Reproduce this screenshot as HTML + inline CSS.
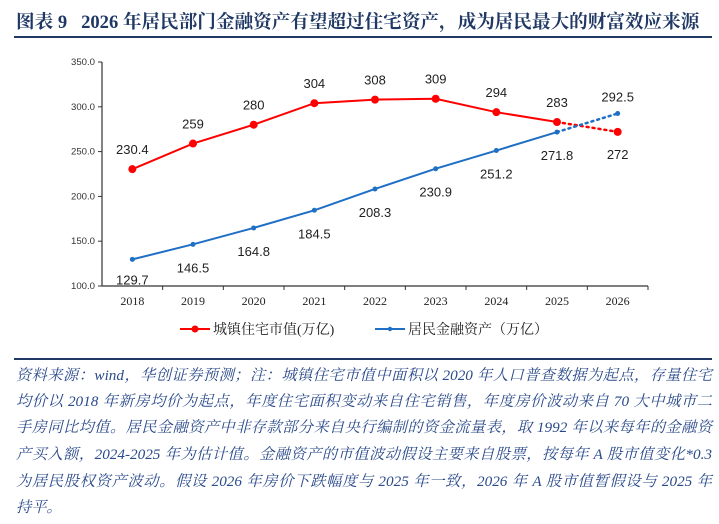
<!DOCTYPE html>
<html><head><meta charset="utf-8">
<style>
body{margin:0;background:#fff;width:719px;height:524px;overflow:hidden;position:relative;font-family:"Liberation Serif","Noto Serif CJK SC",serif;}
.title{position:absolute;left:16px;top:8px;font-size:18.6px;font-weight:bold;color:#1f3864;white-space:nowrap;}
.rule{position:absolute;left:14px;width:698px;height:2px;background:#1f3864;}
.note{position:absolute;left:16px;width:696px;font-size:15.2px;font-style:italic;color:#2a4a8a;white-space:nowrap;text-align:justify;text-align-last:justify;font-family:"Liberation Serif","Noto Serif CJK SC",serif;}
</style></head><body>
<div class="title">图表 9&nbsp;&nbsp; 2026 年居民部门金融资产有望超过住宅资产，成为居民最大的财富效应来源</div>
<div class="rule" style="top:36px"></div>
<svg id="chart" width="719" height="350" style="position:absolute;left:0;top:0"></svg>
<div class="rule" style="top:358px;height:2px"></div>
<div>
<div class="note" style="top:364px">资料来源：wind，华创证券预测；注：城镇住宅市值中面积以 2020 年人口普查数据为起点，存量住宅</div>
<div class="note" style="top:390px">均价以 2018 年新房均价为起点，年度住宅面积变动来自住宅销售，年度房价波动来自 70 大中城市二</div>
<div class="note" style="top:416px">手房同比均值。居民金融资产中非存款部分来自央行编制的资金流量表，取 1992 年以来每年的金融资</div>
<div class="note" style="top:443px">产买入额，2024-2025 年为估计值。金融资产的市值波动假设主要来自股票，按每年 A 股市值变化*0.3</div>
<div class="note" style="top:470px">为居民股权资产波动。假设 2026 年房价下跌幅度与 2025 年一致，2026 年 A 股市值暂假设与 2025 年</div>
<div class="note" style="top:496px;text-align-last:left">持平。</div>
</div>
<script>
const categories=["2018","2019","2020","2021","2022","2023","2024","2025","2026"];
const housing=[230.4,259,280,304,308,309,294,283,272];
const financial=[129.7,146.5,164.8,184.5,208.3,230.9,251.2,271.8,292.5];
const housingLabels=["230.4","259","280","304","308","309","294","283","272"];
const financialLabels=["129.7","146.5","164.8","184.5","208.3","230.9","251.2","271.8","292.5"];
const yTicks=[100,150,200,250,300,350];
const svg=document.getElementById('chart');
const NS='http://www.w3.org/2000/svg';
const x0=102,x1=648,yTop=62,yBot=286,ymin=100,ymax=350;
const bw=(x1-x0)/categories.length;
const X=i=>x0+bw*(i+0.5);
const Y=v=>yBot-(v-ymin)/(ymax-ymin)*(yBot-yTop);
function el(t,a,p){const e=document.createElementNS(NS,t);for(const k in a)e.setAttribute(k,a[k]);(p||svg).appendChild(e);return e;}
const F='"Liberation Sans","DejaVu Sans",sans-serif';
let ax=el('line',{x1:x0,y1:yTop,x2:x0,y2:yBot,stroke:'#333','stroke-width':1.2});

let bx=el('line',{x1:x0,y1:yBot,x2:x1,y2:yBot,stroke:'#333','stroke-width':1.2});

yTicks.forEach(v=>{
  el('line',{x1:x0-4,y1:Y(v),x2:x0,y2:Y(v),stroke:'#333'});
  const t=el('text',{x:x0-7,y:Y(v)+3,'text-anchor':'end','font-size':9,'font-family':F,fill:'#333','textLength':24,'lengthAdjust':'spacingAndGlyphs'});
  t.textContent=v.toFixed(1);
  
});
categories.forEach((c,i)=>{
  el('line',{x1:x0+bw*(i+1),y1:yBot,x2:x0+bw*(i+1),y2:yBot+4,stroke:'#333'});
  const t=el('text',{x:X(i),y:yBot+19,'text-anchor':'middle','font-size':12,'font-family':'"Liberation Serif",serif',fill:'#222'});
  t.textContent=c;
  
});
function series(vals,color,name,r,labels,offs){
  const n=vals.length;
  const solid=vals.slice(0,n-1).map((v,i)=>X(i)+','+Y(v)).join(' ');
  const p=el('polyline',{points:solid,fill:'none',stroke:color,'stroke-width':2});
  
  const d=el('line',{x1:X(n-2),y1:Y(vals[n-2]),x2:X(n-1),y2:Y(vals[n-1]),stroke:color,'stroke-width':2.5,'stroke-dasharray':'2 4','stroke-linecap':'round'});
  
  vals.forEach((v,i)=>{
    const m=el('circle',{cx:X(i),cy:Y(v),r:r,fill:color});
    
    const t=el('text',{x:X(i),y:Y(v)+offs(i),'text-anchor':'middle','font-size':13,'font-family':F,fill:'#222'});
    t.textContent=labels[i];
    
  });
}
series(housing,'#ff0000','housing',4,housingLabels,i=>i==8?27:-15);
series(financial,'#1f6fc5','financial',2.5,financialLabels,i=>i==8?-12:(i==0?25:28));
const lg=el('g',{});

el('line',{x1:180,y1:329,x2:210,y2:329,stroke:'#ff0000','stroke-width':2},lg);
el('circle',{cx:195,cy:329,r:3.5,fill:'#ff0000'},lg);
let t1=el('text',{x:213,y:334,'font-size':14,'font-family':'"Liberation Serif","Noto Serif CJK SC",serif',fill:'#222'},lg);
t1.textContent='城镇住宅市值(万亿)';

el('line',{x1:375,y1:329,x2:405,y2:329,stroke:'#1f6fc5','stroke-width':2},lg);
el('circle',{cx:390,cy:329,r:2.2,fill:'#1f6fc5'},lg);
let t2=el('text',{x:408,y:334,'font-size':14,'font-family':'"Liberation Serif","Noto Serif CJK SC",serif',fill:'#222'},lg);
t2.textContent='居民金融资产（万亿）';

</script>
</body></html>
